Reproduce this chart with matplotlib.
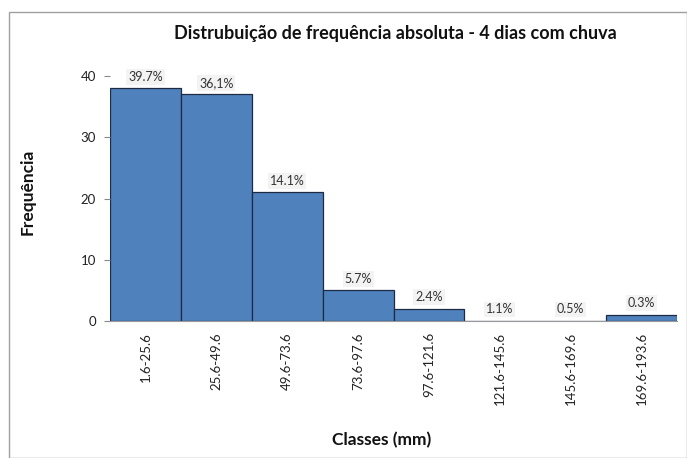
import matplotlib
matplotlib.use("Agg")
import matplotlib.pyplot as plt
from matplotlib.patches import Rectangle

plt.rcParams['font.family'] = ['Lato', 'DejaVu Sans']

classes = ["1.6-25.6", "25.6-49.6", "49.6-73.6", "73.6-97.6", "97.6-121.6",
           "121.6-145.6", "145.6-169.6", "169.6-193.6"]
counts = [38, 37, 21, 5, 2, 0, 0, 1]
percent_labels = ["39.7%", "36,1%", "14.1%", "5.7%", "2.4%", "1.1%", "0.5%", "0.3%"]
yticks = [0, 10, 20, 30, 40]

fig = plt.figure(figsize=(6.87, 4.58), dpi=100)
fig.patches.append(Rectangle((9/687, 0), 1 - 9/687, 1 - 12/458, transform=fig.transFigure,
                             fill=False, edgecolor='#a0a0a0', linewidth=1.0))
ax = fig.add_axes([110/687, 1 - 321/458, 567/687, (321 - 76)/458])

x = list(range(len(classes)))
ax.bar(x, counts, width=1.0, color='#4f81bd', edgecolor='#1c2a44', linewidth=0.9)
ax.set_xlim(-0.5, len(classes) - 0.5)
ax.set_ylim(0, 40)
ax.set_yticks(yticks)
ax.set_yticklabels([str(v) for v in yticks], fontsize=9.5, color='#222222')
ax.set_xticks(x)
ax.set_xticklabels(classes, rotation=90, fontsize=9.5, color='#222222')
ax.tick_params(axis='x', length=0, pad=8)
ax.tick_params(axis='y', length=4, color='#888888', pad=6)
for s in ['top', 'right', 'left']:
    ax.spines[s].set_visible(False)
ax.spines['bottom'].set_color('#999999')
ax.spines['bottom'].set_linewidth(0.8)

for xi, c, lab in zip(x, counts, percent_labels):
    ax.annotate(lab, (xi, c), xytext=(0, 4), textcoords='offset points',
                ha='center', va='bottom', fontsize=9, color='#333333',
                bbox=dict(boxstyle='square,pad=0.15', facecolor='#f3f3f3', edgecolor='none'))

fig.text(395/687, 1 - 33/458, "Distrubuição de frequência absoluta - 4 dias com chuva",
         ha='center', va='center', fontsize=13, fontweight='bold', color='#111111')
fig.text(28/687, 1 - 192/458, "Frequência", rotation=90, ha='center', va='center',
         fontsize=12.5, fontweight='bold', color='#111111')
fig.text(382/687, 1 - 440/458, "Classes (mm)", ha='center', va='center',
         fontsize=12.5, fontweight='bold', color='#111111')

fig.savefig("out.png", dpi=100)
